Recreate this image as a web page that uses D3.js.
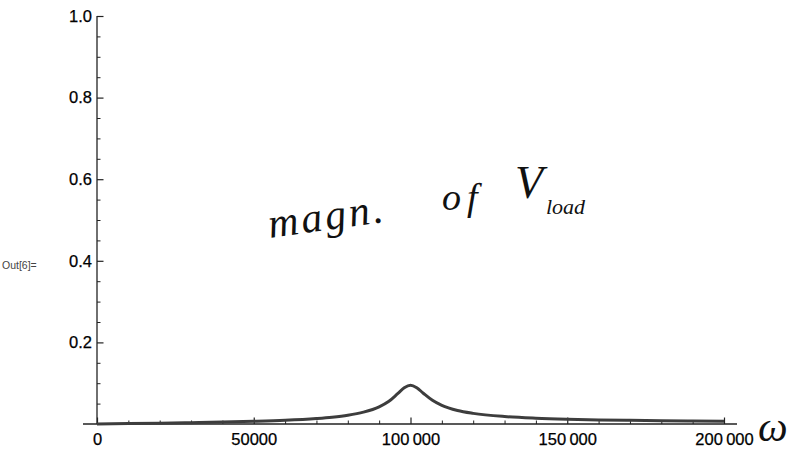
<!DOCTYPE html>
<html>
<head>
<meta charset="utf-8">
<script src="https://cdn.jsdelivr.net/npm/d3@7"></script>
<style>
  body { margin: 0; background: #fff; }
  .axis text { font-family: "Liberation Sans", Arial, sans-serif; font-size: 16.5px; fill: #000; stroke: #000; stroke-width: 0.25px; }
  .axis line, .axis path { stroke: #222; }
  .hand { font-family: "Liberation Serif", serif; font-style: italic; fill: #111; }
</style>
</head>
<body>
<div id="chart"></div>
<script>

// frequency (Hz) and magnitude of V_load
var freqs = [0, 10000, 20000, 30000, 40000, 50000, 60000, 70000, 75000, 80000, 85000,
  90000, 93000, 96000, 98000, 100000, 102000, 104000, 107000, 110000, 115000,
  120000, 130000, 140000, 150000, 160000, 170000, 180000, 190000, 200000];
var mags = [0.0003, 0.001, 0.002, 0.0033, 0.0047, 0.0066, 0.0092, 0.0135, 0.0167, 0.0214, 0.029,
  0.042, 0.055, 0.075, 0.0886, 0.095, 0.0888, 0.076, 0.058, 0.0455, 0.033,
  0.026, 0.0183, 0.0143, 0.0118, 0.0101, 0.0089, 0.0079, 0.0072, 0.0066];

var xTicks = [0, 50000, 100000, 150000, 200000];
var yTicks = [0.2, 0.4, 0.6, 0.8, 1.0];

var width = 799, height = 450;

var svg = d3.select('#chart').append('svg')
  .attr('width', width)
  .attr('height', height);

var x = d3.scaleLinear()
  .domain([0, 200000])
  .range([97, 724]);

var y = d3.scaleLinear()
  .domain([0, 1])
  .range([424, 16]);

function fmtX(d) {
  var s = String(d);
  if (s.length > 5) s = s.slice(0, s.length - 3) + '\u2009' + s.slice(-3);
  return s;
}

// minor ticks
var xMinor = d3.range(0, 200001, 10000).filter(function (d) { return xTicks.indexOf(d) < 0; });
var yMinor = d3.range(1, 21).map(function (i) { return i * 0.05; })
  .filter(function (d) { return Math.abs(d * 5 - Math.round(d * 5)) > 1e-6; });

svg.append('g')
  .attr('class', 'axis')
  .attr('transform', 'translate(0,' + y(0) + ')')
  .call(d3.axisBottom(x).tickValues(xMinor).tickSizeInner(-3.5).tickSizeOuter(0).tickFormat(''))
  .call(function (g) { g.select('.domain').remove(); });

svg.append('g')
  .attr('class', 'axis')
  .attr('transform', 'translate(' + x(0) + ',0)')
  .call(d3.axisLeft(y).tickValues(yMinor).tickSizeInner(-3.5).tickSizeOuter(0).tickFormat(''))
  .call(function (g) { g.select('.domain').remove(); });

// major ticks + labels
var gx = svg.append('g')
  .attr('class', 'axis')
  .attr('transform', 'translate(0,' + y(0) + ')')
  .call(d3.axisBottom(x).tickValues(xTicks).tickSizeInner(-6.5).tickSizeOuter(0).tickPadding(9).tickFormat(fmtX));
gx.select('.domain').remove();
gx.selectAll('line').attr('stroke-width', 1.2);

var gy = svg.append('g')
  .attr('class', 'axis')
  .attr('transform', 'translate(' + x(0) + ',0)')
  .call(d3.axisLeft(y).tickValues(yTicks).tickSizeInner(-6.5).tickSizeOuter(0).tickPadding(5).tickFormat(d3.format('.1f')));
gy.select('.domain').remove();
gy.selectAll('line').attr('stroke-width', 1.2);

// axis lines
svg.append('line')
  .attr('x1', x(0) - 14).attr('x2', x(200000) + 13)
  .attr('y1', y(0)).attr('y2', y(0))
  .attr('stroke', '#222').attr('stroke-width', 1.3);
svg.append('line')
  .attr('x1', x(0)).attr('x2', x(0))
  .attr('y1', y(1)).attr('y2', y(0))
  .attr('stroke', '#222').attr('stroke-width', 1.3);

// curve
var pts = freqs.map(function (f, i) { return [f, mags[i]]; });
svg.append('path')
  .datum(pts)
  .attr('fill', 'none')
  .attr('stroke', '#3d3d3d')
  .attr('stroke-width', 3)
  .attr('d', d3.line()
    .x(function (d) { return x(d[0]); })
    .y(function (d) { return y(d[1]); })
    .curve(d3.curveMonotoneX));

// Mathematica output label
svg.append('text')
  .attr('x', 2).attr('y', 269)
  .attr('font-family', '"Liberation Sans", Arial, sans-serif')
  .attr('font-size', 10.5)
  .attr('fill', '#444')
  .text('Out[6]=');

// handwritten notes
svg.append('text')
  .attr('class', 'hand')
  .attr('transform', 'translate(270,238) rotate(-8)')
  .attr('font-size', 42)
  .attr('letter-spacing', 3)
  .text('magn.');
svg.append('text')
  .attr('class', 'hand')
  .attr('x', 442).attr('y', 210)
  .attr('font-size', 38)
  .attr('letter-spacing', 6)
  .text('of');
svg.append('text')
  .attr('class', 'hand')
  .attr('x', 515).attr('y', 198)
  .attr('font-size', 46)
  .text('V');
svg.append('text')
  .attr('class', 'hand')
  .attr('x', 546).attr('y', 214)
  .attr('font-size', 22)
  .text('load');
svg.append('text')
  .attr('class', 'hand')
  .attr('x', 758).attr('y', 441)
  .attr('font-size', 42)
  .text('\u03c9');

</script>
</body>
</html>
